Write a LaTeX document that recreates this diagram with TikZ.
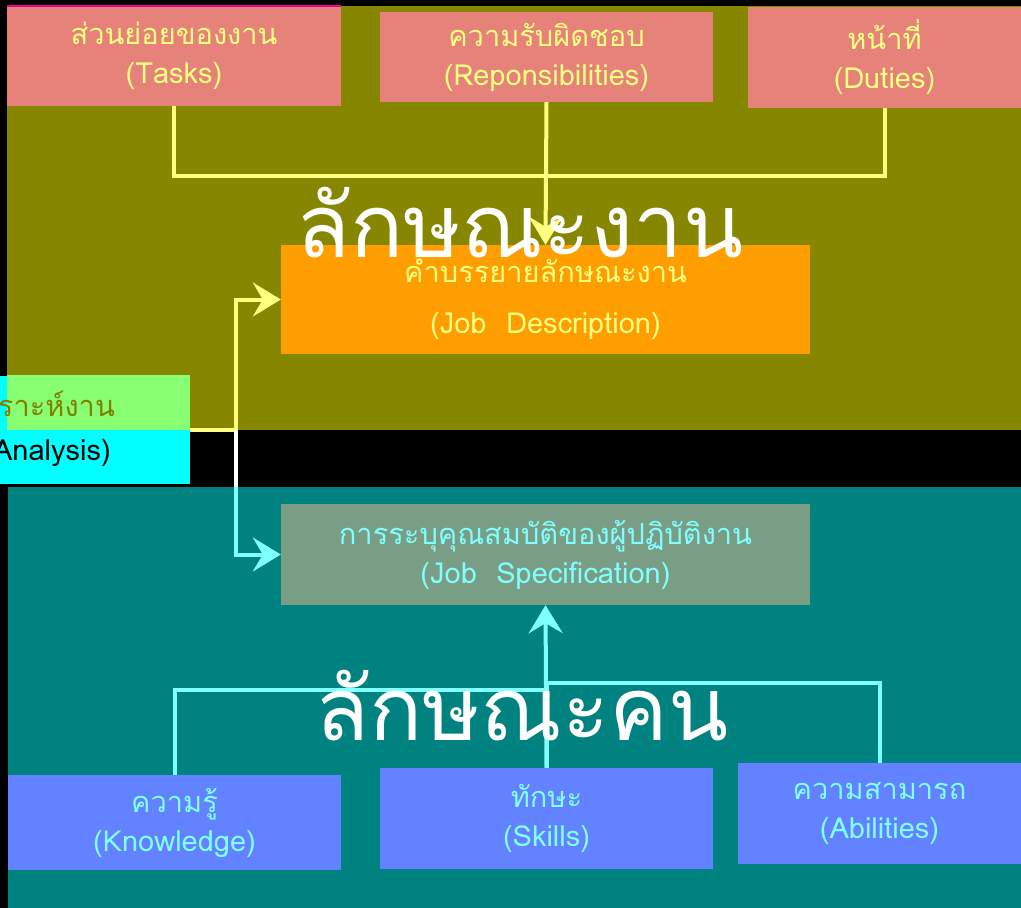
\documentclass[tikz,border=0pt]{standalone}
\usepackage{fontspec}
\newfontfamily\thaifont[Script=Thai]{Loma}
\usetikzlibrary{arrows.meta}

\definecolor{olivebg}{RGB}{134,134,0}
\definecolor{tealbg}{RGB}{0,130,128}
\definecolor{salmon}{RGB}{230,130,122}
\definecolor{paleyellow}{RGB}{255,255,128}
\definecolor{jdorange}{RGB}{255,158,0}
\definecolor{jsgrey}{RGB}{122,158,133}
\definecolor{boxblue}{RGB}{98,130,255}
\definecolor{palecyan}{RGB}{128,255,255}
\definecolor{brightcyan}{RGB}{0,255,255}
\definecolor{palegreen}{RGB}{136,255,112}
\definecolor{oliveink}{RGB}{128,128,0}

\tikzset{
  box/.style={inner sep=0pt, align=center,
    font=\thaifont\fontsize{29}{39}\selectfont},
  topbox/.style={box, fill=salmon, text=paleyellow},
  lowbox/.style={box, fill=boxblue, text=palecyan},
  yline/.style={draw=paleyellow, line width=4pt},
  cline/.style={draw=palecyan, line width=4pt},
  tip/.style={-{Stealth[length=28pt, width=34pt, inset=10pt]}},
  bigword/.style={text=white, font=\thaifont\fontsize{88}{88}\selectfont}
}

\begin{document}
\begin{tikzpicture}[x=1pt, y=-1pt]
\useasboundingbox (0,0) rectangle (1021,908);
\clip (0,0) rectangle (1021,908);
\fill[black] (0,0) rectangle (1021,908);
\fill[olivebg] (7,6) rectangle (1021,430);
\fill[tealbg] (8,487) rectangle (1021,908);

\node[topbox, minimum width=334pt, minimum height=100pt] (tasks) at (174,56)
  {ส่วนย่อยของงาน\\(Tasks)};
\node[topbox, minimum width=333pt, minimum height=90pt] (resp) at (546.5,57)
  {ความรับผิดชอบ\\(Reponsibilities)};
\node[topbox, minimum width=273pt, minimum height=101pt] (duties) at (884.5,57.5)
  {หน้าที่\\(Duties)};
\draw[magenta, line width=1.5pt] (tasks.north west) -- (tasks.north east);

\node[box, fill=jdorange, text=paleyellow, minimum width=529pt, minimum height=109pt] (jd) at (545.5,299.5)
  {คำบรรยายลักษณะงาน\\[12pt](Job~ Description)};
\node[box, fill=jsgrey, text=palecyan, minimum width=529pt, minimum height=101pt] (js) at (545.5,554.5)
  {การระบุคุณสมบัติของผู้ปฏิบัติงาน\\(Job~ Specification)};

\node[fill=brightcyan, minimum width=390pt, minimum height=108pt, inner sep=0pt] (ja) at (-5,430) {};
\fill[palegreen] (7,375) rectangle (190,430);
\node[box, anchor=east, text=oliveink] (jathai) at (115,404) {การวิเคราะห์งาน};
\node[box, anchor=east, text=black] (jaeng) at (111,453) {(Job Analysis)};

\node[lowbox, minimum width=333pt, minimum height=95pt] (know) at (174.5,822.5)
  {ความรู้\\(Knowledge)};
\node[lowbox, minimum width=333pt, minimum height=101pt] (skills) at (546.5,818.5)
  {ทักษะ\\(Skills)};
\node[lowbox, minimum width=283pt, minimum height=101pt] (abil) at (879.5,813.5)
  {ความสามารถ\\(Abilities)};

\coordinate (fork) at (236,430);
\coordinate (gap) at (236,487);
\draw[yline] (tasks.south) -- ++(0,70) -| (duties.south);
\draw[yline, tip] (resp.south) -- (jd.north);
\draw[yline, tip] (ja.east) -- (fork) |- (jd.west);
\draw[white, line width=4pt] (fork) -- (gap);
\draw[cline, tip] (gap) |- (js.west);
\draw[cline] (know.north) -- ++(0,-85) -| (skills.north);
\draw[cline] (abil.north) -- ++(0,-80) -| (skills.north);
\draw[cline, tip] (skills.north) -- (js.south);

\node[bigword] (jobword) at (520,223) {ลักษณะงาน};
\node[bigword] (manword) at (522,706) {ลักษณะคน};
\end{tikzpicture}
\end{document}
